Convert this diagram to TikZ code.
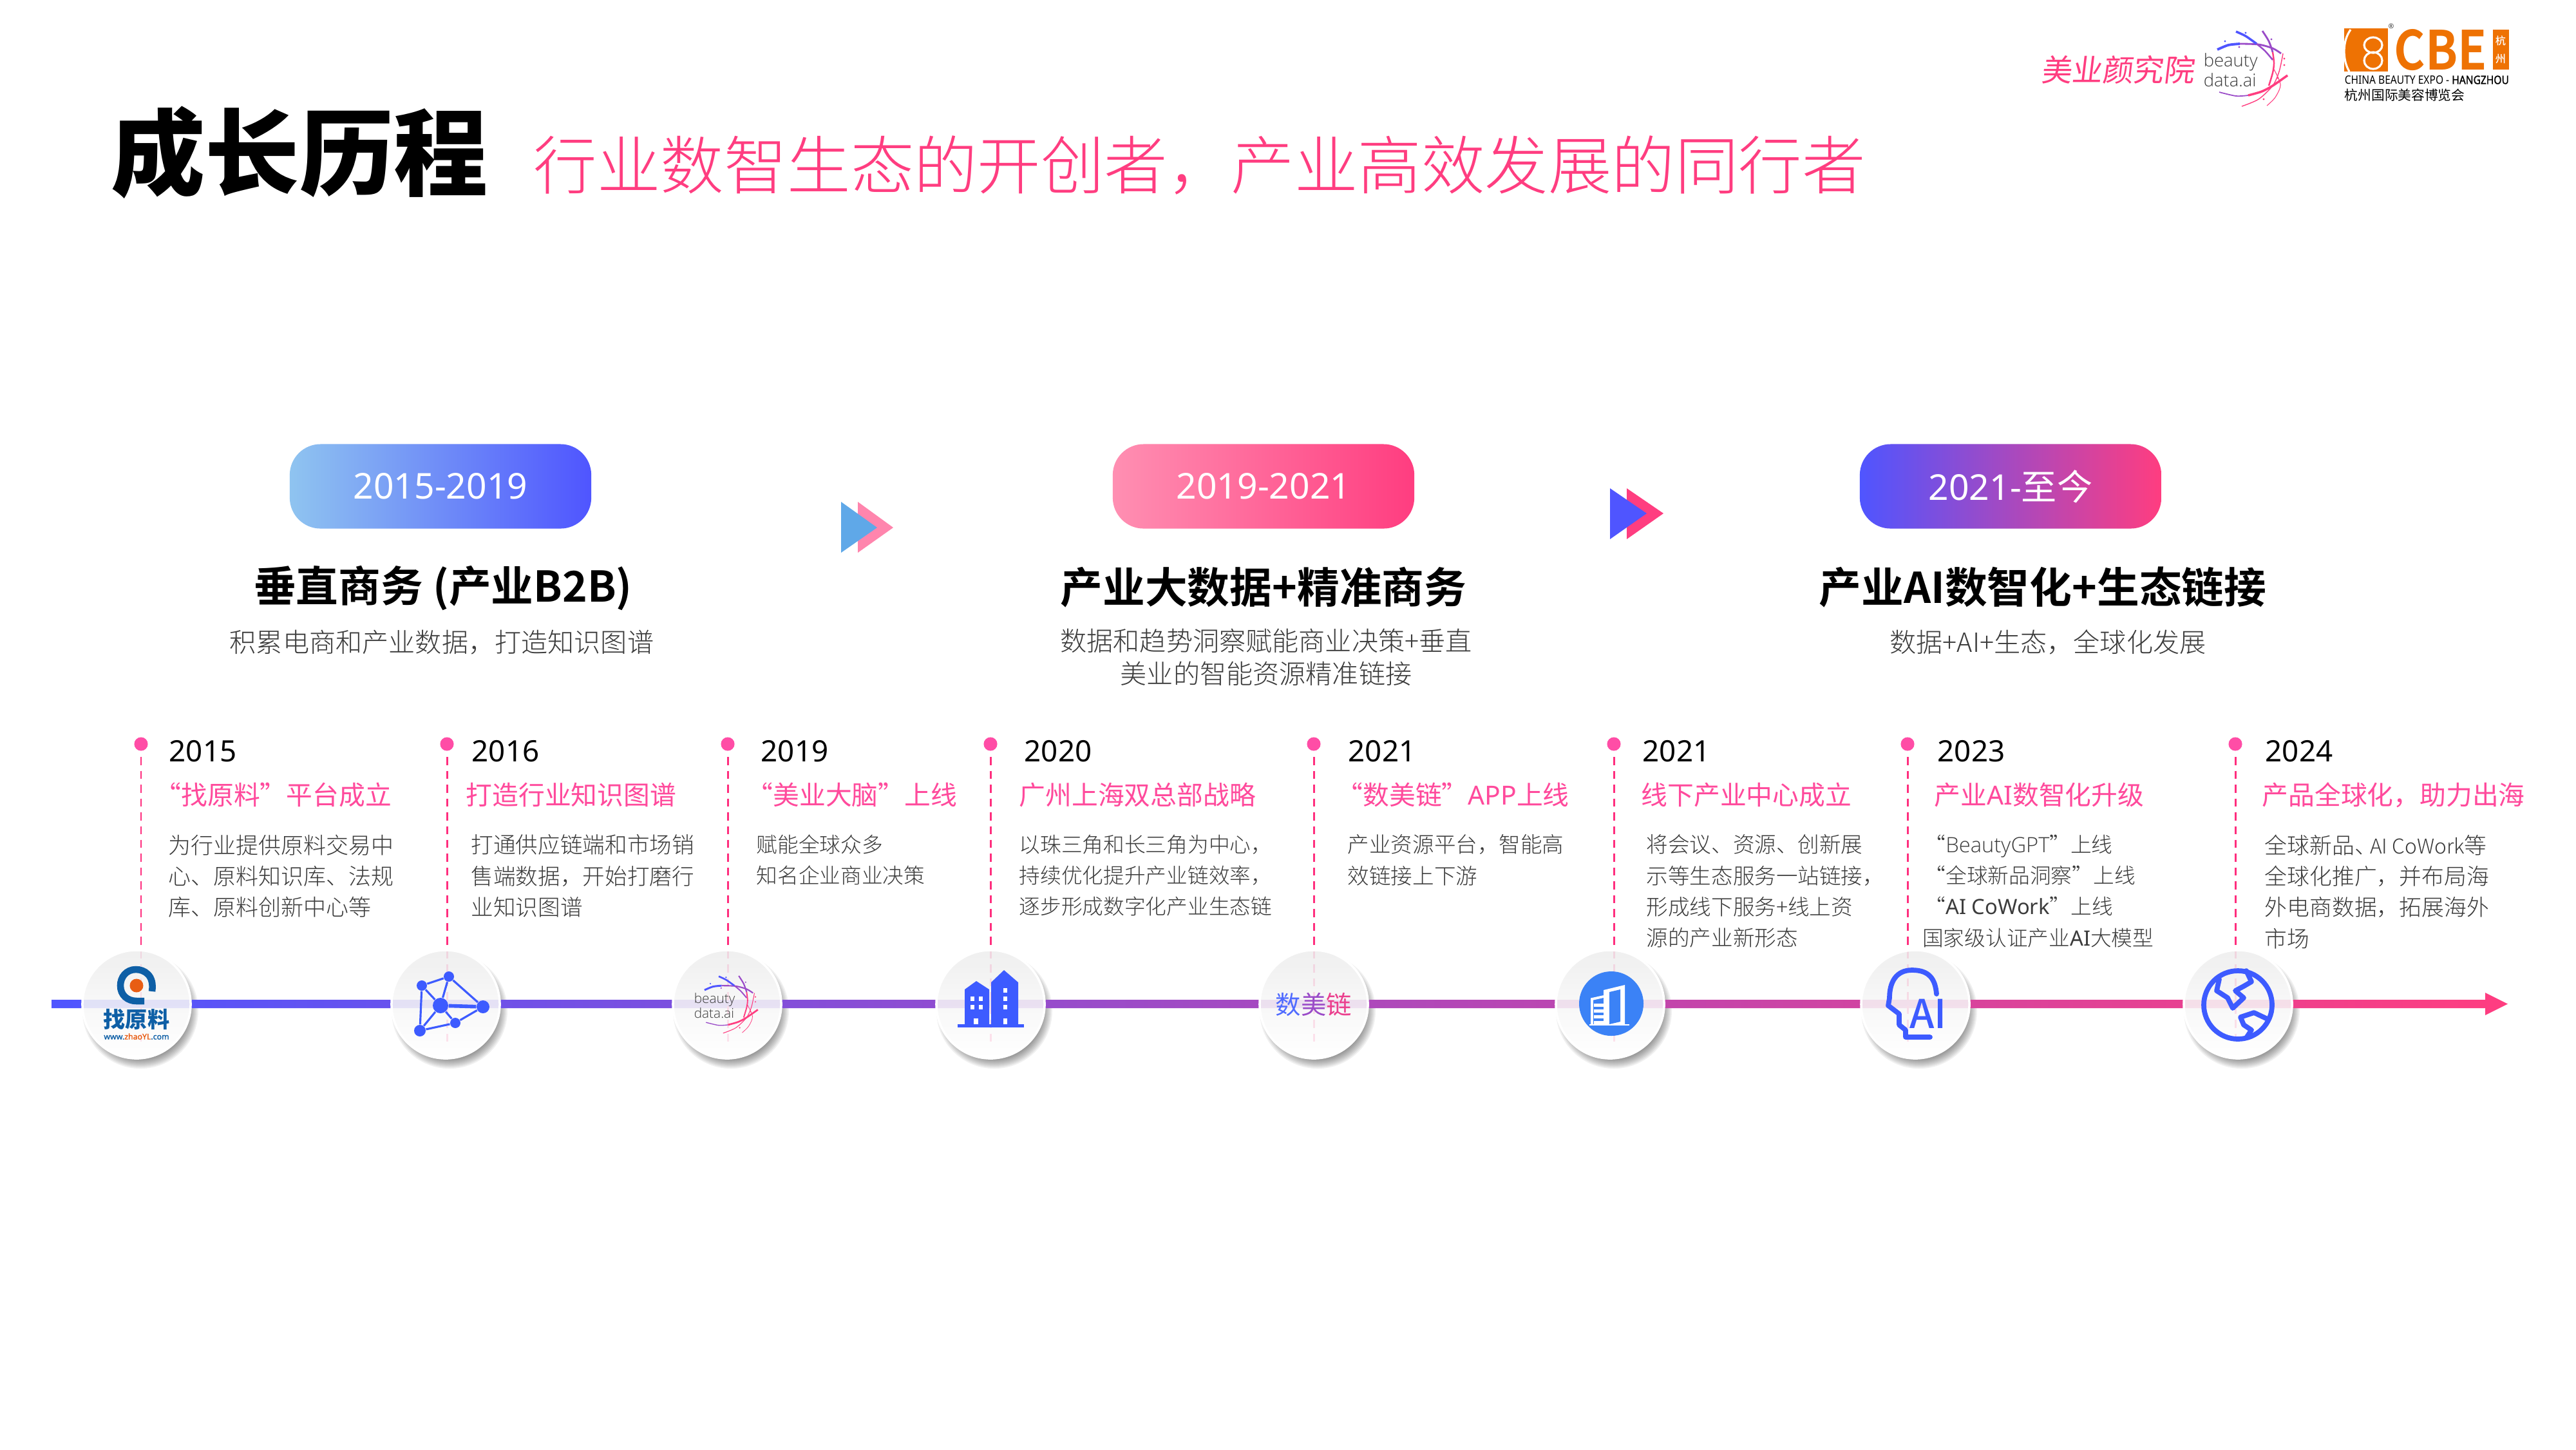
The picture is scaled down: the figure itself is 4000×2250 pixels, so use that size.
\documentclass[tikz,border=0pt]{standalone}
\usepackage{fontspec}
\usetikzlibrary{positioning}
\setmainfont{Noto Sans CJK SC}
\newfontfamily\cjkreg{Noto Sans CJK SC}
\newfontfamily\cjkblack{Noto Sans CJK SC Black}
\newfontfamily\cjklight{Noto Sans CJK SC Light}
\newfontfamily\cjkmed{Noto Sans CJK SC Medium}
\newfontfamily\cjkbold{Noto Sans CJK SC Bold}
\newfontfamily\enlight{Open Sans Light}
\newfontfamily\enreg{Noto Sans}
\newfontfamily\enbold{Noto Sans}[FakeBold=1.5]
\newcommand{\en}[1]{{\enfont #1}}
\let\enfont\enreg

\definecolor{tlblue}{HTML}{4F55FF}
\definecolor{tlpink}{HTML}{FF3D80}
\definecolor{skyblue}{HTML}{8FC4F0}
\definecolor{softpink}{HTML}{FF8FB2}
\definecolor{softblue}{HTML}{5FA8E8}
\definecolor{rosepink}{HTML}{FF85AD}
\definecolor{headpink}{HTML}{FF4A9C}
\definecolor{dotpink}{HTML}{FF4DA6}
\definecolor{stempink}{HTML}{FF2E7E}
\definecolor{bodygray}{HTML}{3C3C3C}
\definecolor{iconblue}{HTML}{3D5BFF}
\definecolor{roundblue}{HTML}{3B82F6}
\definecolor{zyblue}{HTML}{0E5FA6}
\definecolor{zyorange}{HTML}{E85D14}
\definecolor{cbeorange}{HTML}{EE7203}
\definecolor{swirlpurple}{HTML}{9A4BC8}

% swirl mark with its two lines of text, used twice
\newcommand{\swirlmark}[3]{%
  \begin{scope}[shift={(#1,#2)},scale=#3,every node/.append style={transform shape}]
    \draw[line width=#3*1.1pt,tlblue] plot[smooth] coordinates {(-54,-29) (-37,-36) (-19,-38)};
    \draw[line width=#3*.8pt,swirlpurple] plot[smooth] coordinates {(-19,-38) (10,-37) (32,-31) (45,-23)};
    \draw[line width=#3*1pt,tlblue] plot[smooth] coordinates {(-25,-57) (-10,-50) (7,-38)};
    \draw[line width=#3*.7pt,swirlpurple] plot[smooth] coordinates {(7,-38) (20,-27) (32,-13)};
    \draw[line width=#3*.8pt,swirlpurple] plot[smooth] coordinates {(16,-58) (26,-42) (32,-25)};
    \draw[line width=#3*.7pt,tlpink] plot[smooth] coordinates {(32,-25) (34,-8) (32,7) (26,27)};
    \draw[line width=#3*.5pt,swirlpurple] plot[smooth] coordinates {(-51,37) (-25,43) (-6,42)};
    \draw[line width=#3*1pt,tlpink] plot[smooth] coordinates {(-6,42) (15,36) (32,27) (55,11)};
    \draw[line width=#3*.4pt,tlpink] plot[smooth] coordinates {(48,-23) (42,5) (32,27) (10,48) (-16,59)};
    \draw[line width=#3*.3pt,tlpink] plot[smooth] coordinates {(33,0) (44,25) (36,45) (23,58)};
    \foreach \px/\py/\pc in {-42/-42/tlblue,-10/-55/tlblue,30/-45/swirlpurple,-20/-33/swirlpurple,50/-5/tlpink,40/15/tlpink,18/48/tlpink,50/-15/tlpink}
      \fill[\pc] (\px,\py) circle[radius=1.6];
    \node[anchor=west,inner sep=0pt,align=left,font=\fontsize{7.8}{7.4}\enlight,text=bodygray] (swirltext#1) at (-76,3) {beauty\\data.ai};
  \end{scope}}

\begin{document}
\begin{tikzpicture}[
    x=.01cm, y=-.01cm,
    % timeline
    discbase/.style={circle, fill=white, minimum size=1.68cm, inner sep=0pt},
    discface/.style={circle, minimum size=1.68cm, inner sep=0pt, top color=black!7, bottom color=white, middle color=black!3, opacity=.87, draw=white, line width=1pt, draw opacity=1},
    yeardot/.style={circle, fill=dotpink, minimum size=6pt, inner sep=0pt},
    stem/.style={stempink, line width=.85pt, dash pattern=on 3.55pt off 2.56pt},
    yearlabel/.style={anchor=west, inner sep=0pt, font=\fontsize{13}{15}\enreg, text=black},
    eventlabel/.style={anchor=west, inner sep=0pt, font=\fontsize{11.6}{14}\cjkreg, text=headpink},
    eventbody/.style={anchor=north west, inner sep=0pt, align=left, text=bodygray},
    % period blocks
    periodpill/.style={rounded corners=13.6pt, minimum width=4.68cm, minimum height=1.31cm, inner sep=0pt, text=white, font=\fontsize{15.7}{18}\enreg},
    periodhead/.style={inner sep=0pt, font=\fontsize{18.7}{22}\cjkbold, text=black},
    periodtext/.style={inner sep=0pt, align=center, font=\fontsize{11.7}{14.5}\cjklight, text=bodygray},
    iconline/.style={iconblue, line width=2.2pt, line cap=round, line join=round},
  ]
  \path[use as bounding box, fill=white] (0,0) rectangle (4000,2250);

  % title
  \node[anchor=west, inner sep=0pt, font=\fontsize{41.6}{48}\cjkblack] (maintitle) at (172,237) {成长历程};
  \node[anchor=west, inner sep=0pt, font=\fontsize{28}{34}\cjklight, text=tlpink] (subtitle) at (828,256) {行业数智生态的开创者，产业高效发展的同行者};

  % logos
  \node[anchor=center, inner sep=0pt, font=\fontsize{13.5}{16}\cjkreg, text=tlpink, xslant=.12] (brandname) at (3290,108) {美业颜究院};
  \swirlmark{3497}{106}{1}
  \fill[cbeorange] (3640,44) rectangle (3708,111);
  \draw[white, line width=.9pt] (3650,46) .. controls (3636,65) and (3638,95) .. (3648,111);
  \draw[white, line width=.9pt] (3685,70) ellipse[x radius=14, y radius=12] (3685,94) ellipse[x radius=14, y radius=13];
  \node[inner sep=0pt, font=\fontsize{3}{3}\enreg, text=bodygray] (cbereg) at (3713,41) {®};
  \node[anchor=west, inner sep=0pt, font=\cjkbold, text=cbeorange] (cbeword) at (3717,78) {\resizebox{1.44cm}{.63cm}{CBE}};
  \fill[cbeorange] (3871,46) rectangle (3896,108);
  \node[inner sep=0pt, font=\fontsize{4.6}{5}\cjkmed, text=white] (cbehang) at (3883,63) {杭};
  \node[inner sep=0pt, font=\fontsize{4.6}{5}\cjkmed, text=white] (cbezhou) at (3883,91) {州};
  \node[anchor=west, inner sep=0pt] (cbeline) at (3640,124) {\resizebox{2.55cm}{.13cm}{\enreg CHINA BEAUTY EXPO - {\enbold HANGZHOU}}};
  \node[anchor=west, inner sep=0pt, font=\fontsize{5.9}{7}\cjkreg] (cbecn) at (3640,148) {杭州国际美容博览会};

  % period blocks
  \foreach \n/\px/\colA/\colB/\yrs in {1/684/skyblue/tlblue/2015-2019, 2/1962/softpink/tlpink/2019-2021, 3/3122/tlblue/tlpink/{2021-{\cjkreg 至今}}}
    \node[periodpill, left color=\colA, right color=\colB] (pill\n) at (\px,755) {\yrs};
  \node[periodhead] (head1) at (688,913) {垂直商务 (产业B2B)};
  \node[periodhead] (head2) at (1962,912) {产业大数据+精准商务};
  \node[periodhead] (head3) at (3172,912) {产业AI数智化+生态链接};
  \node[periodtext] (note1) at (686,997) {积累电商和产业数据，打造知识图谱};
  \node[periodtext, anchor=north] (note2) at (1966,975) {数据和趋势洞察赋能商业决策+垂直\\美业的智能资源精准链接};
  \node[periodtext] (note3) at (3180,997) {数据+AI+生态，全球化发展};

  % chevrons between the periods
  \fill[rosepink] (1332,779) -- (1387,819) -- (1332,858) -- cycle;
  \fill[softblue] (1306,779) -- (1362,819) -- (1306,858) -- cycle;
  \fill[tlpink] (2526,758) -- (2583,797) -- (2526,837) -- cycle;
  \fill[tlblue] (2500,758) -- (2557,797) -- (2500,837) -- cycle;

  % discs with their shadows
  \foreach \i/\cx in {1/212, 2/692, 3/1129, 4/1538, 5/2040, 6/2500, 7/2974, 8/3475} {
    \foreach \r in {90,88,...,76}
      \fill[black, opacity=.06] (\cx+6,1569) circle[radius=\r];
    \node[discbase] (base\i) at (\cx,1559) {};
  }

  % time bar
  \shade[left color=tlblue, right color=tlpink] (80,1552) -- (3859,1552) -- (3859,1541) -- (3894,1558.5) -- (3859,1576) -- (3859,1565) -- (80,1565) -- cycle;

  % years and events
  \foreach \i/\cx/\sx/\yx/\yrs/\tx/\evt/\bx/\bsz/\btx in {
    1/212/219/262/2015/240/{“找原料”平台成立}/261/9.95/{为行业提供原料交易中\\心、原料知识库、法规\\库、原料创新中心等},
    2/692/694/732/2016/723/{打造行业知识图谱}/731/9.85/{打通供应链端和市场销\\售端数据，开始打磨行\\业知识图谱},
    3/1129/1130/1181/2019/1159/{“美业大脑”上线}/1174/9.3/{赋能全球众多\\知名企业商业决策},
    4/1538/1538/1590/2020/1582/{广州上海双总部战略}/1582/9.3/{以珠三角和长三角为中心，\\持续优化提升产业链效率，\\逐步形成数字化产业生态链},
    5/2040/2040/2093/2021/2075/{“数美链”\en{APP}上线}/2092/9.55/{产业资源平台，智能高\\效链接上下游},
    6/2500/2506/2550/2021/2548/{线下产业中心成立}/2556/9.55/{将会议、资源、创新展\\示等生态服务一站链接，\\形成线下服务+线上资\\源的产业新形态},
    7/2974/2962/3008/2023/3003/{产业\en{AI}数智化升级}/2988/9.3/{“\en{BeautyGPT}”上线\\“全球新品洞察”上线\\“\en{AI CoWork}”上线\\\hspace*{-1pt}国家级认证产业\en{AI}大模型},
    8/3475/3471/3517/2024/3512/{产品全球化，助力出海}/3516/9.9/{全球新品、\hspace{-3pt}{\fontsize{9}{13.74}\selectfont AI CoWork}等\\全球化推广，并布局海\\外电商数据，拓展海外\\市场}} {
    \node[yeardot] (dot\i) at (\sx,1155) {};
    \draw[stem, shorten <=2.5pt, shorten >=5pt] (dot\i) -- (dot\i |- base\i.south);
    \node[discface] (disc\i) at (\cx,1559) {};
    \node[yearlabel] (year\i) at (\yx,1166) {\yrs};
    \node[eventlabel] (event\i) at (\tx,1234) {\let\enfont\enreg\evt};
    \node[eventbody, font=\fontsize{\bsz}{13.74}\cjklight] (body\i) at (\bx,1295) {\let\enfont\enlight\btx};
  }

  % icon 1, ring logo
  \draw[zyblue, line width=3pt] (236,1539) .. controls (240,1514) and (224,1505) .. (211,1505) .. controls (196,1505) and (187,1517) .. (187,1530) .. controls (187,1545) and (198,1554) .. (212,1554) -- (224,1554);
  \fill[zyorange] (212,1530) circle[radius=10.5];
  \node[inner sep=0pt, font=\fontsize{9.7}{11}\cjkblack, text=zyblue] (zyname) at (212,1582) {找原料};
  \node[inner sep=0pt, font=\fontsize{3.5}{4}\enbold, text=zyblue] (zyurl) at (212,1609) {www.{\color{zyorange}zhaoYL}.com};

  % icon 2, network
  \foreach \a/\ax/\ay/\ar in {nt/697/1516/8, nl/655/1530/8, nc/684/1561/12, nr/750/1563/10, nd/707/1588/8, nb/652/1600/9}
    \node[circle, fill=iconblue, minimum size=2*\ar*.01cm, inner sep=0pt] (\a) at (\ax,\ay) {};
  \foreach \a/\b in {nt/nl, nt/nc, nt/nr, nl/nc, nl/nb, nc/nd, nc/nb, nr/nd, nd/nb}
    \draw[iconblue, line width=.9pt] (\a) -- (\b);
  \draw[iconblue, line width=1.6pt] (nc) -- (nr);

  % icon 3, swirl
  \swirlmark{1135}{1559}{.76}

  % icon 4, buildings
  \fill[iconblue] (1487,1590) rectangle (1590,1595);
  \fill[iconblue] (1498,1590) -- (1498,1536) -- (1516,1523) -- (1536,1536) -- (1536,1590) -- cycle;
  \fill[iconblue] (1539,1590) -- (1539,1525) -- (1559,1506) -- (1581,1525) -- (1581,1590) -- cycle;
  \foreach \wx/\wy in {1507/1547, 1520/1547, 1507/1560, 1520/1560, 1558/1534, 1558/1547, 1558/1560}
    \fill[white] (\wx,\wy) rectangle ++(6,7);
  \fill[white] (1512,1581) rectangle ++(7,9);
  \fill[white] (1558,1581) rectangle ++(6,9);

  % icon 5, gradient word
  \node[inner sep=0pt, font=\fontsize{11.2}{13}\cjkreg] (wordmark) at (2040,1559) {\textcolor{iconblue!90!white}{数}\textcolor{swirlpurple}{美}\textcolor{tlpink!80!swirlpurple}{链}};

  % icon 6, round building
  \fill[roundblue] (2502,1558) circle[radius=50];
  \fill[white] (2490,1590) -- (2490,1537) -- (2523,1529) -- (2523,1590) -- cycle;
  \fill[roundblue] (2499,1590) -- (2499,1540) -- (2516,1536) -- (2516,1586) -- cycle;
  \draw[white, line width=1.1pt] (2472,1590) -- (2472,1551) -- (2490,1547);
  \foreach \wy in {1558,1567,1576,1585}
    \fill[white] (2475,\wy) rectangle (2490,\wy+5);
  \draw[white, line width=.8pt] (2468,1591) -- (2530,1591);

  % icon 7, head
  \draw[iconline] (3007,1543) .. controls (3005,1520) and (2996,1506) .. (2969,1506) .. controls (2944,1506) and (2934,1525) .. (2934,1549) -- (2932,1561) -- (2949,1574) -- (2949,1591) -- (2959,1599) -- (2959,1610) -- (2997,1610);
  \node[inner sep=0pt, font=\fontsize{17.5}{18}\cjkmed, text=iconblue] (headai) at (2994,1574) {AI};

  % icon 8, globe
  \draw[iconline] (3475,1560) circle[radius=53];
  \draw[iconline] (3446,1520) -- (3442,1538) -- (3459,1549) -- (3467,1565) -- (3484,1549) -- (3471,1538) -- (3484,1531) -- (3496,1524) -- (3488,1507);
  \draw[iconline] (3521,1582) -- (3500,1572) -- (3479,1579) -- (3484,1591) -- (3496,1599) -- (3488,1611);
\end{tikzpicture}
\end{document}
